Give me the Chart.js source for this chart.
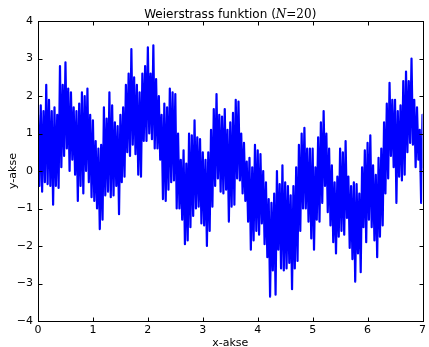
<!DOCTYPE html>
<html>
<head>
<meta charset="utf-8">
<script src="https://cdn.jsdelivr.net/npm/chart.js@4"></script>
<style>
html,body{margin:0;padding:0;background:#fff;}
canvas{display:block;}
</style>
</head>
<body>
<canvas id="c" width="429" height="347"></canvas>
<script>
// Sample positions along x (read every 0.05)
const xs = [
 0.00,0.05,0.10,0.15,0.20,0.25,0.30,0.35,0.40,0.45,
 0.50,0.55,0.60,0.65,0.70,0.75,0.80,0.85,0.90,0.95,
 1.00,1.05,1.10,1.15,1.20,1.25,1.30,1.35,1.40,1.45,
 1.50,1.55,1.60,1.65,1.70,1.75,1.80,1.85,1.90,1.95,
 2.00,2.05,2.10,2.15,2.20,2.25,2.30,2.35,2.40,2.45,
 2.50,2.55,2.60,2.65,2.70,2.75,2.80,2.85,2.90,2.95,
 3.00,3.05,3.10,3.15,3.20,3.25,3.30,3.35,3.40,3.45,
 3.50,3.55,3.60,3.65,3.70,3.75,3.80,3.85,3.90,3.95,
 4.00,4.05,4.10,4.15,4.20,4.25,4.30,4.35,4.40,4.45,
 4.50,4.55,4.60,4.65,4.70,4.75,4.80,4.85,4.90,4.95,
 5.00,5.05,5.10,5.15,5.20,5.25,5.30,5.35,5.40,5.45,
 5.50,5.55,5.60,5.65,5.70,5.75,5.80,5.85,5.90,5.95,
 6.00,6.05,6.10,6.15,6.20,6.25,6.30,6.35,6.40,6.45,
 6.50,6.55,6.60,6.65,6.70,6.75,6.80,6.85,6.90,6.95,
 7.00
];
// Local maxima of the curve near each sample
const tops = [
 1.5,1.75,1.6,2.3,1.9,1.6,1.7,1.5,2.8,2.3,
 2.9,2.2,2.1,1.7,1.6,1.8,2.1,2.0,2.2,1.5,
 1.35,0.8,0.6,0.7,1.7,1.4,2.1,1.75,1.3,1.2,
 1.5,1.7,2.3,2.6,3.25,2.5,2.3,2.1,2.6,2.8,
 3.3,2.6,3.35,2.45,2.0,1.5,1.8,1.7,2.2,2.1,
 2.05,1.0,0.3,0.55,0.2,1.0,0.95,1.35,0.9,0.85,
 0.5,0.3,0.5,1.1,1.65,2.05,1.5,1.45,1.65,1.1,
 1.3,1.55,1.9,1.85,1.0,0.75,0.25,0.35,0.1,0.7,
 0.55,0.45,0.0,-0.3,-0.75,-0.85,-0.6,0.0,-0.35,0.15,
 -0.3,-0.4,-0.65,-0.4,0.1,0.7,1.0,1.15,0.6,0.6,
 0.6,0.1,0.9,1.3,1.6,1.0,0.6,0.15,-0.3,-0.15,
 0.6,0.5,0.8,-0.15,-0.4,-0.3,-0.35,-0.6,0.1,0.55,
 0.75,0.95,0.15,-0.1,0.35,0.6,1.3,1.8,2.35,1.9,
 1.9,1.6,1.75,2.4,2.65,2.4,3.0,1.9,1.7,1.1,
 1.5
];
// Local minima of the curve near each sample
const bottoms = [
 -0.4,-0.55,-0.3,-0.35,-0.4,-0.9,-0.4,-0.45,0.1,0.4,
 0.6,0.0,0.3,-0.1,-0.8,-0.4,-0.6,0.0,-0.3,-0.7,
 -0.8,-1.0,-1.55,-1.3,-0.65,-0.55,-0.7,-0.65,-0.4,-1.15,
 -0.3,-0.15,0.5,0.4,0.7,0.45,-0.1,-0.15,0.8,0.8,
 1.0,0.85,0.6,0.6,0.3,-0.75,-0.8,-0.5,-0.3,-0.25,
 -1.0,-1.0,-1.3,-1.95,-1.85,-1.5,-1.2,-1.0,-0.95,-1.4,
 -1.45,-2.0,-1.6,-0.95,-0.4,-0.2,-0.55,-0.6,-0.5,-1.35,
 -0.95,-0.9,-0.2,-0.25,-0.6,-0.8,-1.35,-2.1,-1.85,-1.6,
 -1.7,-1.4,-1.95,-2.3,-3.35,-2.65,-3.3,-2.1,-2.6,-2.65,
 -2.6,-2.45,-3.15,-2.6,-2.4,-1.6,-1.0,-1.0,-1.35,-1.8,
 -2.1,-1.3,-1.35,-0.85,-0.4,-1.1,-1.45,-1.9,-2.2,-1.75,
 -1.6,-1.7,-1.25,-2.05,-2.35,-2.95,-2.2,-2.7,-1.5,-1.9,
 -1.3,-1.5,-1.85,-2.3,-1.75,-1.45,-0.6,-0.2,0.4,0.1,
 -0.85,-0.15,-0.25,-0.1,0.5,0.75,0.7,0.1,0.3,-0.85,
 0.1
];
const xTicks = [0,1,2,3,4,5,6,7];
const yTicks = [-4,-3,-2,-1,0,1,2,3,4];
const titleParts = ['Weierstrass funktion (', 'N', '=20', ')'];
const xLabel = 'x-akse';
const yLabel = 'y-akse';

// Build the zigzag table: max at each sample, min half way to the next
const pts = [];
for (let i = 0; i < xs.length; i++) {
  pts.push({x: xs[i], y: tops[i]});
  const bx = i < xs.length - 1 ? (xs[i] + xs[i+1]) / 2 : xs[i];
  pts.push({x: bx, y: bottoms[i]});
}

const deco = {
  id: 'deco',
  afterDraw(chart) {
    const {ctx, chartArea: a, scales: {x, y}} = chart;
    ctx.save();
    ctx.strokeStyle = '#000';
    ctx.lineWidth = 1;
    const L = Math.round(a.left) + 0.5, R = Math.round(a.right) + 0.5;
    const T = Math.round(a.top) + 0.5, B = Math.round(a.bottom) + 0.5;
    ctx.beginPath();
    xTicks.forEach(v => {
      const p = Math.round(x.getPixelForValue(v)) + 0.5;
      ctx.moveTo(p, B); ctx.lineTo(p, B - 4);
      ctx.moveTo(p, T); ctx.lineTo(p, T + 4);
    });
    yTicks.forEach(v => {
      const p = Math.round(y.getPixelForValue(v)) + 0.5;
      ctx.moveTo(L, p); ctx.lineTo(L + 4, p);
      ctx.moveTo(R, p); ctx.lineTo(R - 4, p);
    });
    ctx.stroke();
    ctx.strokeRect(L, T, R - L, B - T);

    // Title with math-styled part
    ctx.fillStyle = '#000';
    ctx.textBaseline = 'alphabetic';
    const fonts = ['12px "DejaVu Sans"', 'italic 12px "DejaVu Serif"', '12px "DejaVu Serif"', '12px "DejaVu Sans"'];
    let total = 0;
    const widths = titleParts.map((t, i) => { ctx.font = fonts[i]; const w = ctx.measureText(t).width; total += w; return w; });
    let cx = (a.left + a.right) / 2 - total / 2;
    titleParts.forEach((t, i) => { ctx.font = fonts[i]; ctx.textAlign = 'left'; ctx.fillText(t, cx, 17.5); cx += widths[i]; });

    // Axis labels
    ctx.font = '11px "DejaVu Sans"';
    ctx.textAlign = 'center';
    ctx.fillText(xLabel, (a.left + a.right) / 2, 345.5);
    ctx.save();
    ctx.translate(16, (a.top + a.bottom) / 2);
    ctx.rotate(-Math.PI / 2);
    ctx.fillText(yLabel, 0, 0);
    ctx.restore();
    ctx.restore();
  }
};

const fmt = v => (v < 0 ? '\u2212' + Math.abs(v) : String(v));

new Chart(document.getElementById('c'), {
  type: 'line',
  data: {
    datasets: [{
      data: pts,
      borderColor: '#0000ff',
      borderWidth: 2.2,
      borderJoinStyle: 'round',
      pointRadius: 0,
      tension: 0,
      fill: false
    }]
  },
  options: {
    responsive: false,
    animation: false,
    devicePixelRatio: 1,
    layout: {padding: {left: 0, right: 2, top: 21, bottom: 0}},
    plugins: {legend: {display: false}, tooltip: {enabled: false}, title: {display: false}},
    scales: {
      x: {
        type: 'linear', min: 0, max: 7,
        afterFit(s) { s.height = 26; },
        afterBuildTicks(s) { s.ticks = xTicks.map(v => ({value: v})); },
        grid: {display: false, drawTicks: false},
        border: {display: false},
        ticks: {color: '#000', font: {family: 'DejaVu Sans', size: 11}, padding: 3, maxRotation: 0, callback: fmt}
      },
      y: {
        type: 'linear', min: -4, max: 4,
        afterFit(s) { s.width = 38; },
        afterBuildTicks(s) { s.ticks = yTicks.map(v => ({value: v})); },
        grid: {display: false, drawTicks: false},
        border: {display: false},
        ticks: {color: '#000', font: {family: 'DejaVu Sans', size: 11}, padding: 5, callback: fmt}
      }
    }
  },
  plugins: [deco]
});
</script>
</body>
</html>
